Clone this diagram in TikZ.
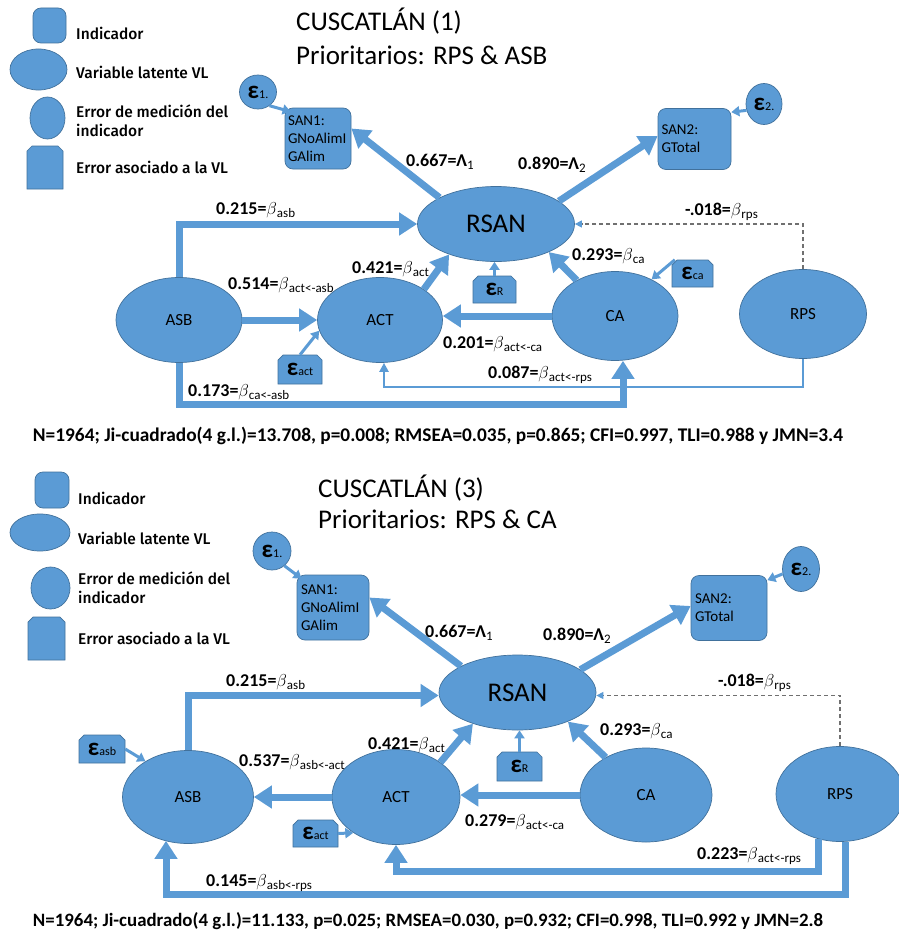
\documentclass[tikz,border=0pt]{standalone}
\usepackage{fontspec}
\usepackage{graphicx}
\setmainfont{Carlito}
\newfontfamily\legendfont{Fira Sans}[UprightFont={* Medium}]
\usetikzlibrary{arrows.meta,shapes.geometric,calc}

\definecolor{nodeblue}{HTML}{5B9BD5}
\definecolor{rimblue}{HTML}{41719C}
\definecolor{dashgray}{HTML}{707070}

% lowered subscript in regular weight
\newcommand\lowsub[1]{\raisebox{-3pt}{\fontsize{13}{13}\selectfont\mdseries #1}}
% path coefficient: value = beta_{sub}
\newcommand\bcoef[2]{\textbf{#1=}$\beta$\lowsub{#2}}
% loading: value = Lambda_{i}
\newcommand\lcoef[2]{\textbf{#1=Λ}\lowsub{#2}}
% error symbol with index
\newcommand\errsym[1]{{\fontsize{25}{25}\selectfont\bfseries ε}{\fontsize{12}{12}\selectfont #1}}
% box with both top corners snipped: name, cx, cy, width, height, content
\newcommand\snipnode[6]{%
  \filldraw[snipfill] ({#2-#4/2},{#3+#5/2}) -- ({#2-#4/2},{#3-#5/2+5}) -- ({#2-#4/2+5},{#3-#5/2})
    -- ({#2+#4/2-5},{#3-#5/2}) -- ({#2+#4/2},{#3-#5/2+5}) -- ({#2+#4/2},{#3+#5/2}) -- cycle;
  \node[errbox, minimum width=#4pt, minimum height=#5pt] (#1) at (#2,#3) {#6};}

\begin{document}
\begin{tikzpicture}[x=1pt,y=-1pt,
  latent/.style={ellipse, fill=nodeblue, draw=rimblue, line width=0.7pt, inner sep=0pt,
    font=\fontsize{17}{17}\selectfont},
  indbox/.style={rectangle, rounded corners=8pt, fill=nodeblue, draw=rimblue, line width=0.7pt,
    inner sep=0pt, align=left, font=\fontsize{15}{18}\selectfont},
  errcirc/.style={ellipse, fill=nodeblue, draw=rimblue, line width=0.7pt, inner sep=0pt},
  snipfill/.style={fill=nodeblue, draw=rimblue, line width=0.7pt},
  errbox/.style={rectangle, inner sep=0pt},
  bigarrow/.style={draw=nodeblue, line width=7pt, -{Triangle[length=18pt,width=22pt]}},
  smallarrow/.style={draw=nodeblue, line width=3pt, -{Triangle[length=8pt,width=10pt]}},
  thinarrow/.style={draw=nodeblue, line width=2.2pt, -{Triangle[length=9pt,width=9pt]}},
  dasharrow/.style={draw=dashgray, line width=1.1pt, dash pattern=on 4pt off 3pt,
    -{Triangle[length=7pt,width=7pt,color=nodeblue]}},
  coef/.style={anchor=base west, inner sep=0pt, font=\fontsize{18}{18}\selectfont},
  legtext/.style={anchor=west, inner sep=0pt, align=left, font=\legendfont\fontsize{15.5}{19}\selectfont},
  titletext/.style={anchor=base west, inner sep=0pt, font=\fontsize{27}{27}\selectfont},
  fittext/.style={inner sep=0pt, font=\bfseries\fontsize{16}{16}\selectfont}
]
\useasboundingbox[fill=white] (0,0) rectangle (899,934);

%================ Model (1) ================
% legend
\node[indbox, minimum width=33pt, minimum height=35pt] (legindA) at (49.5,25.5) {};
\node[errcirc, minimum width=57pt, minimum height=41pt] (legvlA) at (38.5,69.5) {};
\node[errcirc, minimum width=35pt, minimum height=42pt] (legerrA) at (47.5,118) {};
\snipnode{legsnipA}{45}{167.5}{36}{43}{}
\node[legtext] (legindtA) at (76,33) {Indicador};
\node[legtext] (legvltA) at (76,72) {Variable latente VL};
\node[legtext] (legerrtA) at (76,120.5) {Error de medición del\\indicador};
\node[legtext] (legsniptA) at (76,167) {Error asociado a la VL};

% title
\node[titletext] (titleA1) at (296,31) {CUSCATLÁN (1)};
\node[titletext] (titleA2) at (296,64) {Prioritarios: RPS \& ASB};

% latent variables
\node[latent, minimum width=157pt, minimum height=75pt] (rsanA) at (496,224) {\fontsize{27}{27}\selectfont RSAN};
\node[latent, minimum width=126pt, minimum height=85pt] (asbA) at (179,320) {ASB};
\node[latent, minimum width=125pt, minimum height=85pt] (actA) at (380,320) {ACT};
\node[latent, minimum width=126pt, minimum height=89pt] (caA) at (615,316) {CA};
\node[latent, minimum width=127pt, minimum height=89pt] (rpsA) at (803,314) {RPS};

% indicators
\node[indbox, minimum width=66pt, minimum height=61pt, text width=60pt] (san1A) at (318,138.5) {SAN1:\\GNoAlimI\\GAlim};
\node[indbox, minimum width=73pt, minimum height=61pt, text width=66pt] (san2A) at (694.5,139) {SAN2:\\GTotal\\[2pt]};

% errors
\node[errcirc, minimum width=37pt, minimum height=34pt] (eps1A) at (258,92) {\errsym{1.}};
\node[errcirc, minimum width=36pt, minimum height=41pt] (eps2A) at (764,104) {\errsym{2.}};
\snipnode{epscaA}{692.5}{273.5}{41}{27}{\errsym{ca}}
\snipnode{epsRA}{494.5}{289.5}{43}{27}{\errsym{R}}
\snipnode{epsactA}{300}{369.5}{44}{29}{\errsym{act}}

% routing rows
\coordinate (rowthinA) at (0,387);
\coordinate (rowthickA) at (0,404);

% connectors
\draw[bigarrow] (rsanA.155) -- ([yshift=10pt]san1A.east);
\draw[bigarrow] (rsanA.20) -- ([yshift=3pt]san2A.west);
\draw[smallarrow] (eps1A.-50) -- ([xshift=6pt,yshift=-4pt]san1A.north west);
\draw[smallarrow] (eps2A.200) -- ([yshift=-4pt]san2A.north east);
\draw[bigarrow] (asbA.north) |- (rsanA.west);
\draw[bigarrow] (asbA.east) -- (actA.west);
\draw[bigarrow] (actA.35) -- (rsanA.213);
\draw[bigarrow] (caA.137) -- (rsanA.-28);
\draw[smallarrow] (epsRA.north) -- (epsRA.north |- rsanA.south);
\draw[smallarrow] ([xshift=3pt]epscaA.north west) -- (caA.45);
\draw[smallarrow] (epsactA.north) -- (actA.190);
\draw[bigarrow] (caA.west) -- (caA.west -| actA.east);
\draw[dasharrow] (rpsA.north) |- (rsanA.east);
\draw[thinarrow] (rpsA.south) -- (rpsA.south |- rowthinA) -| ([xshift=4pt]actA.south);
\draw[bigarrow] (asbA.south) -- (asbA.south |- rowthickA) -| ([xshift=8pt]caA.south);

% coefficients
\node[coef] (cA1) at (406,166) {\lcoef{0.667}{1}};
\node[coef] (cA2) at (518,169) {\lcoef{0.890}{2}};
\node[coef] (cA3) at (216,214) {\bcoef{0.215}{asb}};
\node[coef] (cA4) at (228,289) {\bcoef{0.514}{act<-asb}};
\node[coef] (cA5) at (352,273) {\bcoef{0.421}{act}};
\node[coef] (cA6) at (443,348) {\bcoef{0.201}{act<-ca}};
\node[coef] (cA7) at (488,378) {\bcoef{0.087}{act<-rps}};
\node[coef] (cA8) at (188,396) {\bcoef{0.173}{ca<-asb}};
\node[coef] (cA9) at (572,260) {\bcoef{0.293}{ca}};
\node[coef] (cA10) at (685,215) {\bcoef{-.018}{rps}};

% fit indices
\node[fittext] (fitA) at (438,436) {\resizebox{810pt}{!}{N=1964; Ji-cuadrado(4 g.l.)=13.708, p=0.008; RMSEA=0.035, p=0.865; CFI=0.997, TLI=0.988 y JMN=3.4}};

%================ Model (3) ================
% legend
\node[indbox, minimum width=34pt, minimum height=36pt] (legindB) at (52,490) {};
\node[errcirc, minimum width=60pt, minimum height=37pt] (legvlB) at (40,532.5) {};
\node[errcirc, minimum width=39pt, minimum height=42pt] (legerrB) at (50.5,588) {};
\snipnode{legsnipB}{46.5}{638.5}{37}{43}{}
\node[legtext] (legindtB) at (78,498) {Indicador};
\node[legtext] (legvltB) at (78,538) {Variable latente VL};
\node[legtext] (legerrtB) at (78,588) {Error de medición del\\indicador};
\node[legtext] (legsniptB) at (78,638) {Error asociado a la VL};

% title
\node[titletext] (titleB1) at (318,497) {CUSCATLÁN (3)};
\node[titletext] (titleB2) at (318,528) {Prioritarios: RPS \& CA};

% latent variables
\node[latent, minimum width=157pt, minimum height=75pt] (rsanB) at (517.5,692.5) {\fontsize{27}{27}\selectfont RSAN};
\node[latent, minimum width=131pt, minimum height=93pt] (asbB) at (188,797) {ASB};
\node[latent, minimum width=128pt, minimum height=95pt] (actB) at (396,797) {ACT};
\node[latent, minimum width=132pt, minimum height=94pt] (caB) at (646,795) {CA};
\node[latent, minimum width=128pt, minimum height=95pt] (rpsB) at (840,794) {RPS};

% indicators
\node[indbox, minimum width=72pt, minimum height=65pt, text width=64pt] (san1B) at (333,607.5) {SAN1:\\GNoAlimI\\GAlim};
\node[indbox, minimum width=76pt, minimum height=65pt, text width=68pt] (san2B) at (729,608) {SAN2:\\GTotal\\[2pt]};

% errors
\node[errcirc, minimum width=38pt, minimum height=38pt] (eps1B) at (272,551) {\errsym{1.}};
\node[errcirc, minimum width=37pt, minimum height=45pt] (eps2B) at (801,569) {\errsym{2.}};
\snipnode{epsasbB}{102}{749}{46}{28}{\errsym{asb}}
\snipnode{epsactB}{315.5}{833.5}{45}{27}{\errsym{act}}
\snipnode{epsRB}{519.5}{766.5}{45}{29}{\errsym{R}}

% routing rows and split exits from RPS
\coordinate (rowinB) at (0,871);
\coordinate (rowoutB) at (0,894);
\coordinate (rpsinB) at ([xshift=-22pt,yshift=3pt]rpsB.south);
\coordinate (rpsoutB) at ([xshift=5pt]rpsB.south);

% connectors
\draw[bigarrow] (rsanB.155) -- ([yshift=10pt]san1B.east);
\draw[bigarrow] (rsanB.20) -- ([yshift=2pt]san2B.west);
\draw[smallarrow] (eps1B.-50) -- ([xshift=5pt,yshift=-4pt]san1B.north west);
\draw[smallarrow] (eps2B.195) -- ([yshift=-5pt]san2B.north east);
\draw[bigarrow] (asbB.north) |- ([yshift=-3pt]rsanB.west);
\draw[bigarrow] (actB.west) -- (asbB.east);
\draw[bigarrow] (actB.38) -- (rsanB.215);
\draw[bigarrow] (caB.137) -- (rsanB.-30);
\draw[smallarrow] (epsRB.north) -- (epsRB.north |- rsanB.south);
\draw[smallarrow] (epsasbB.east) -- (asbB.140);
\draw[smallarrow] (epsactB.east) -- (actB.220);
\draw[bigarrow] (caB.west) -- (caB.west -| actB.east);
\draw[dasharrow] (rpsB.north) |- ([yshift=-3pt]rsanB.east);
\draw[bigarrow] (rpsinB) -- (rpsinB |- rowinB) -| (actB.south);
\draw[bigarrow] (rpsoutB) -- (rpsoutB |- rowoutB) -| ([xshift=-22pt,yshift=3pt]asbB.south);

% coefficients
\node[coef] (cB1) at (425,637) {\lcoef{0.667}{1}};
\node[coef] (cB2) at (543,640) {\lcoef{0.890}{2}};
\node[coef] (cB3) at (226,686) {\bcoef{0.215}{asb}};
\node[coef] (cB4) at (239,766) {\bcoef{0.537}{asb<-act}};
\node[coef] (cB5) at (368,749) {\bcoef{0.421}{act}};
\node[coef] (cB6) at (600,735) {\bcoef{0.293}{ca}};
\node[coef] (cB7) at (718,686) {\bcoef{-.018}{rps}};
\node[coef] (cB8) at (465,826) {\bcoef{0.279}{act<-ca}};
\node[coef] (cB9) at (697,859) {\bcoef{0.223}{act<-rps}};
\node[coef] (cB10) at (206,886) {\bcoef{0.145}{asb<-rps}};

% fit indices
\node[fittext] (fitB) at (428,921) {\resizebox{790pt}{!}{N=1964; Ji-cuadrado(4 g.l.)=11.133, p=0.025; RMSEA=0.030, p=0.932; CFI=0.998, TLI=0.992 y JMN=2.8}};
\end{tikzpicture}
\end{document}
